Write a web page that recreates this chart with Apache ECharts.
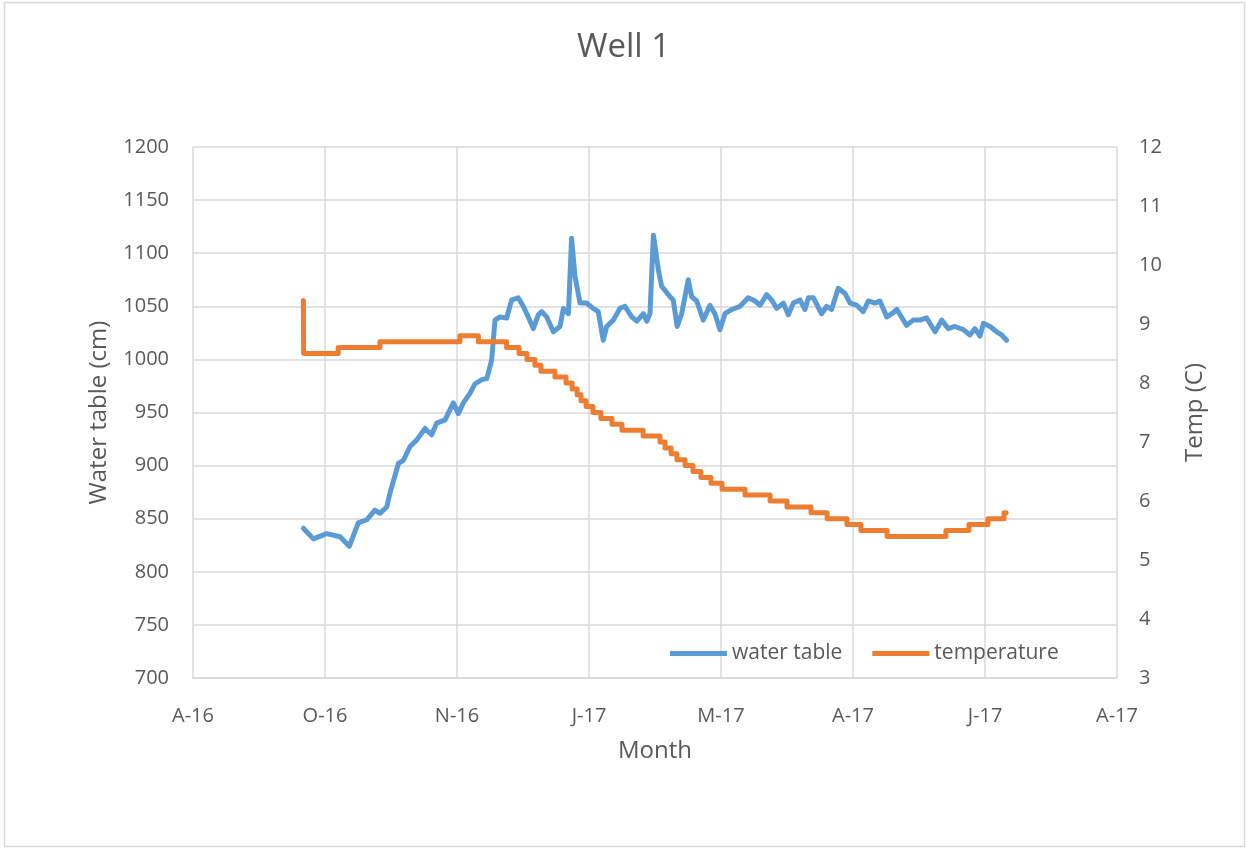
<!DOCTYPE html>
<html>
<head>
<meta charset="utf-8">
<script src="https://cdn.jsdelivr.net/npm/echarts@6/dist/echarts.min.js"></script>
<style>
html,body{margin:0;padding:0;background:#fff;}
#c{width:1247px;height:848px;}
</style>
</head>
<body>
<div id="c"></div>
<script>
// x-axis: days since first tick (ticks every 50 days)
const xTickLabels = ["A-16","O-16","N-16","J-17","M-17","A-17","J-17","A-17"];

const waterDays = [41.8,45.6,50.6,55.7,59.2,62.6,65.8,68.9,70.8,73.4,74.6,77.8,79.7,82.2,84.7,87.9,90.4,92.3,95.5,98.6,100.5,102.4,104.9,106.8,109.4,111.3,113.1,114.4,116.3,118.8,120.7,123.2,125.1,127.0,128.9,130.8,132.1,134.0,136.5,139.0,140.3,142.2,143.4,144.7,146.6,149.1,151.6,153.5,155.4,156.7,159.2,161.7,163.6,166.2,168.1,170.6,171.9,173.1,174.4,176.3,177.5,180.7,181.9,183.4,185.1,187.6,188.9,190.8,193.3,195.8,197.7,199.6,201.5,204.1,207.2,210.3,212.9,214.8,217.3,219.2,221.1,223.6,225.5,227.4,229.9,231.8,233.1,235.0,238.1,240.0,241.9,244.4,247.0,248.9,251.4,253.9,255.8,258.3,260.2,262.8,264.7,266.6,270.3,272.8,275.4,277.9,281.1,283.6,286.1,288.6,291.8,294.3,296.2,298.1,299.4,301.9,304.4,306.3,308.2];
const waterTable = [841,831,836,833,824,846,849,858,855,861,874,902,905,918,924,935,929,940,943,959,949,959,968,977,981,982,999,1037,1040,1039,1056,1058,1050,1040,1029,1042,1045,1040,1026,1031,1048,1043,1114,1078,1053,1053,1048,1045,1018,1031,1037,1048,1050,1040,1036,1043,1036,1043,1117,1084,1069,1059,1056,1031,1043,1075,1059,1055,1037,1051,1043,1028,1043,1047,1050,1058,1055,1051,1061,1056,1048,1053,1042,1053,1056,1047,1058,1058,1043,1050,1047,1067,1062,1053,1051,1045,1055,1053,1055,1040,1043,1047,1032,1037,1037,1039,1026,1037,1029,1031,1028,1023,1029,1022,1034,1031,1026,1023,1018];

const tempDays = [41.8,41.9,55.0,70.8,101.1,108.1,118.8,123.5,126.5,129.5,131.8,137.1,141.3,143.6,145.5,147.0,148.9,151.5,154.5,158.7,162.5,170.5,176.9,178.8,181.1,183.3,186.4,189.4,192.4,196.2,200.4,209.1,218.6,225.0,234.1,240.2,247.7,253.0,262.9,285.2,293.9,301.1,307.2,308.0];
const temperature = [9.4,8.5,8.6,8.7,8.8,8.7,8.6,8.5,8.4,8.3,8.2,8.1,8.0,7.9,7.8,7.7,7.6,7.5,7.4,7.3,7.2,7.1,7.0,6.9,6.8,6.7,6.6,6.5,6.4,6.3,6.2,6.1,6.0,5.9,5.8,5.7,5.6,5.5,5.4,5.5,5.6,5.7,5.8,5.8];

const leftTicks = {min:700, max:1200, interval:50};
const rightTicks = {min:3, max:12, interval:1};

const FONT = "'Open Sans', 'Noto Sans', sans-serif";
const GRAY = '#595959';
const GRID = '#d9d9d9';

const chart = echarts.init(document.getElementById('c'), null, {renderer:'canvas'});
chart.setOption({
  animation:false,
  backgroundColor:'#fff',
  textStyle:{fontFamily:FONT},
  graphic:[{type:'rect', shape:{x:4.5,y:2.5,width:1240,height:844}, style:{fill:'none', stroke:'#d9d9d9', lineWidth:1.5}, silent:true, z:-10}],
  title:{text:'Well 1', left:'center', top:26, textStyle:{fontFamily:FONT, fontSize:33, fontWeight:'normal', color:GRAY}},
  grid:{left:193, right:130, top:147, bottom:170, containLabel:false},
  legend:{
    left:665, top:638, itemWidth:57, itemHeight:5, itemGap:30, icon:'rect',
    textStyle:{fontFamily:FONT, fontSize:21, color:GRAY},
    data:['water table','temperature']
  },
  xAxis:{
    type:'value', min:0, max:350, interval:50,
    name:'Month', nameLocation:'middle', nameGap:61,
    nameTextStyle:{fontFamily:FONT, fontSize:24, color:GRAY},
    axisLine:{show:true, lineStyle:{color:GRID, width:1.5}},
    axisTick:{show:false},
    axisLabel:{margin:28, fontFamily:FONT, fontSize:20, color:GRAY, formatter:v=>xTickLabels[Math.round(v/50)]},
    splitLine:{show:true, lineStyle:{color:GRID, width:1.5}}
  },
  yAxis:[{
    type:'value', min:leftTicks.min, max:leftTicks.max, interval:leftTicks.interval,
    name:'Water table (cm)', nameLocation:'middle', nameGap:82, nameRotate:90,
    nameTextStyle:{fontFamily:FONT, fontSize:24, color:GRAY},
    axisLine:{show:false}, axisTick:{show:false},
    axisLabel:{margin:24, fontFamily:FONT, fontSize:20, color:GRAY, formatter:v=>String(v)},
    splitLine:{show:true, lineStyle:{color:GRID, width:1.5}}
  },{
    type:'value', min:rightTicks.min, max:rightTicks.max, interval:rightTicks.interval, position:'right',
    name:'Temp (C)', nameLocation:'middle', nameGap:66, nameRotate:90,
    nameTextStyle:{fontFamily:FONT, fontSize:24, color:GRAY},
    axisLine:{show:false}, axisTick:{show:false},
    axisLabel:{margin:22, fontFamily:FONT, fontSize:20, color:GRAY},
    splitLine:{show:false}
  }],
  series:[{
    name:'water table', type:'line', yAxisIndex:0, showSymbol:false, symbol:'none',
    color:'#5b9bd5',
    lineStyle:{color:'#5b9bd5', width:5, join:'round', cap:'round'},
    data:waterDays.map((d,i)=>[d, waterTable[i]])
  },{
    name:'temperature', type:'line', yAxisIndex:1, showSymbol:false, symbol:'none', step:'end',
    color:'#ed7d31',
    lineStyle:{color:'#ed7d31', width:5, join:'round', cap:'round'},
    data:tempDays.map((d,i)=>[d, temperature[i]])
  }]
});
</script>
</body>
</html>
